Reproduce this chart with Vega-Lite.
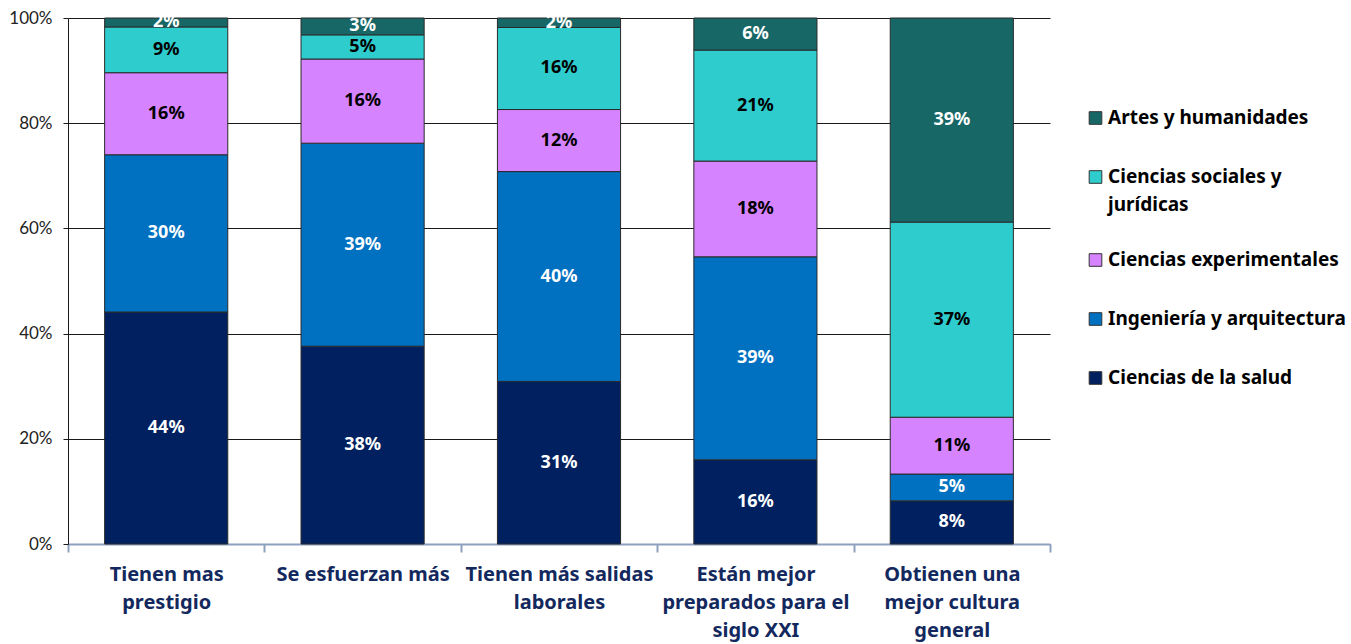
{
  "$schema": "https://vega.github.io/schema/vega-lite/v6.json",
  "width": 982,
  "height": 526,
  "autosize": {"type": "none"},
  "padding": {"left": 68, "top": 18, "right": 301, "bottom": 100},
  "background": "white",
  "config": {"view": {"stroke": null}, "font": "Noto Sans"},
  "data": {"values": [
    {"cat": "Tienen mas|prestigio", "serie": "Ciencias de la salud", "ord": 1, "v": 44.1},
    {"cat": "Tienen mas|prestigio", "serie": "Ingeniería y arquitectura", "ord": 2, "v": 29.9},
    {"cat": "Tienen mas|prestigio", "serie": "Ciencias experimentales", "ord": 3, "v": 15.6},
    {"cat": "Tienen mas|prestigio", "serie": "Ciencias sociales y jurídicas", "ord": 4, "v": 8.7},
    {"cat": "Tienen mas|prestigio", "serie": "Artes y humanidades", "ord": 5, "v": 1.7},
    {"cat": "Se esfuerzan más", "serie": "Ciencias de la salud", "ord": 1, "v": 37.6},
    {"cat": "Se esfuerzan más", "serie": "Ingeniería y arquitectura", "ord": 2, "v": 38.6},
    {"cat": "Se esfuerzan más", "serie": "Ciencias experimentales", "ord": 3, "v": 16.0},
    {"cat": "Se esfuerzan más", "serie": "Ciencias sociales y jurídicas", "ord": 4, "v": 4.6},
    {"cat": "Se esfuerzan más", "serie": "Artes y humanidades", "ord": 5, "v": 3.2},
    {"cat": "Tienen más salidas|laborales", "serie": "Ciencias de la salud", "ord": 1, "v": 30.9},
    {"cat": "Tienen más salidas|laborales", "serie": "Ingeniería y arquitectura", "ord": 2, "v": 39.9},
    {"cat": "Tienen más salidas|laborales", "serie": "Ciencias experimentales", "ord": 3, "v": 11.8},
    {"cat": "Tienen más salidas|laborales", "serie": "Ciencias sociales y jurídicas", "ord": 4, "v": 15.6},
    {"cat": "Tienen más salidas|laborales", "serie": "Artes y humanidades", "ord": 5, "v": 1.8},
    {"cat": "Están mejor|preparados para el|siglo XXI", "serie": "Ciencias de la salud", "ord": 1, "v": 16.0},
    {"cat": "Están mejor|preparados para el|siglo XXI", "serie": "Ingeniería y arquitectura", "ord": 2, "v": 38.6},
    {"cat": "Están mejor|preparados para el|siglo XXI", "serie": "Ciencias experimentales", "ord": 3, "v": 18.2},
    {"cat": "Están mejor|preparados para el|siglo XXI", "serie": "Ciencias sociales y jurídicas", "ord": 4, "v": 21.1},
    {"cat": "Están mejor|preparados para el|siglo XXI", "serie": "Artes y humanidades", "ord": 5, "v": 6.1},
    {"cat": "Obtienen una|mejor cultura|general", "serie": "Ciencias de la salud", "ord": 1, "v": 8.2},
    {"cat": "Obtienen una|mejor cultura|general", "serie": "Ingeniería y arquitectura", "ord": 2, "v": 5.1},
    {"cat": "Obtienen una|mejor cultura|general", "serie": "Ciencias experimentales", "ord": 3, "v": 10.8},
    {"cat": "Obtienen una|mejor cultura|general", "serie": "Ciencias sociales y jurídicas", "ord": 4, "v": 37.1},
    {"cat": "Obtienen una|mejor cultura|general", "serie": "Artes y humanidades", "ord": 5, "v": 38.8}
  ]},
  "transform": [
    {"stack": "v", "groupby": ["cat"], "sort": [{"field": "ord", "order": "ascending"}], "offset": "normalize", "as": ["y0", "y1"]},
    {"calculate": "(datum.y0 + datum.y1) / 2", "as": "ymid"},
    {"calculate": "datum.v / 100", "as": "frac"}
  ],
  "encoding": {
    "x": {
      "field": "cat", "type": "nominal", "sort": null,
      "scale": {"paddingInner": 0, "paddingOuter": 0},
      "axis": {
        "title": null, "labelAngle": 0, "tickBand": "extent",
        "labelExpr": "split(datum.label, '|')",
        "labelFont": "Noto Sans", "labelFontSize": 20, "labelFontWeight": "bold", "labelColor": "#13295E",
        "labelLineHeight": 28, "labelBaseline": "top", "labelPadding": 12, "labelLimit": 300,
        "domainColor": "#8EA0BF", "domainWidth": 2, "tickColor": "#8EA0BF", "tickWidth": 2, "tickSize": 8,
        "grid": false
      }
    }
  },
  "layer": [
    {
      "mark": {"type": "bar", "width": {"band": 0.627}, "stroke": "#2a2a2a", "strokeWidth": 1},
      "encoding": {
        "y": {"field": "y0", "type": "quantitative", "scale": {"domain": [0, 1], "nice": false},
          "axis": {"title": null, "format": ".0%", "values": [0, 0.2, 0.4, 0.6, 0.8, 1],
            "labelFont": "Lato", "labelFontSize": 17, "labelColor": "#222", "labelPadding": 11,
            "grid": true, "gridColor": "#1a1a1a", "gridWidth": 1, "gridOpacity": 1,
            "domainColor": "#1a1a1a", "tickColor": "#1a1a1a", "tickSize": 5}},
        "y2": {"field": "y1"},
        "color": {
          "field": "serie", "type": "nominal",
          "scale": {
            "domain": ["Artes y humanidades", "Ciencias sociales y jurídicas", "Ciencias experimentales", "Ingeniería y arquitectura", "Ciencias de la salud"],
            "range": ["#186767", "#2ECCCC", "#D683FF", "#0070C0", "#002060"]
          },
          "legend": {
            "title": null, "orient": "none", "legendX": 1018, "legendY": 86,
            "symbolType": "square", "symbolSize": 160, "symbolStrokeColor": "#333", "symbolStrokeWidth": 1,
            "labelFont": "Noto Sans", "labelFontSize": 19, "labelFontWeight": "bold", "labelColor": "#000",
            "labelLimit": 300, "rowPadding": 31, "labelOffset": 3, "clipHeight": 28,
            "labelExpr": "datum.label == 'Ciencias sociales y jurídicas' ? ['Ciencias sociales y', 'jurídicas'] : datum.label",
            "encode": {"labels": {"update": {"lineHeight": {"value": 28}}}}
          }
        }
      }
    },
    {
      "mark": {"type": "text", "font": "Noto Sans", "fontSize": 18, "fontWeight": "bold", "baseline": "middle", "align": "center"},
      "encoding": {
        "y": {"field": "ymid", "type": "quantitative"},
        "text": {"field": "frac", "type": "quantitative", "format": ".0%"},
        "color": {
          "condition": {"test": "datum.serie == 'Ciencias sociales y jurídicas' || datum.serie == 'Ciencias experimentales'", "value": "#000000"},
          "value": "#ffffff"
        }
      }
    }
  ]
}
